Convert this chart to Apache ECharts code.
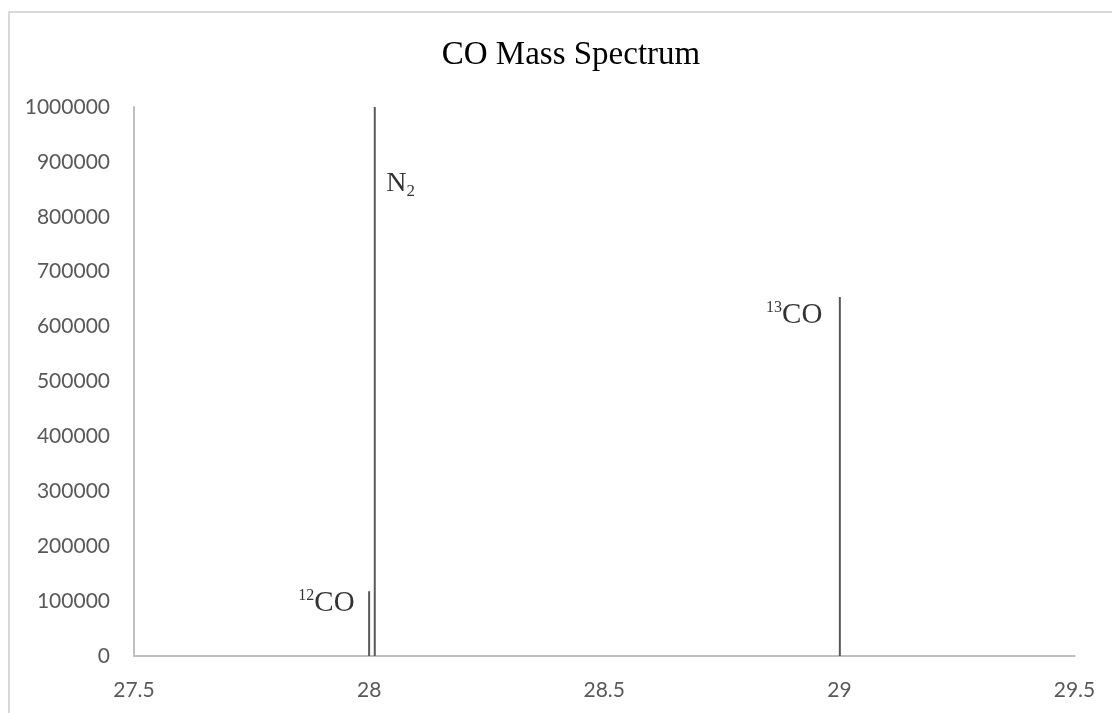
<!DOCTYPE html>
<html>
<head>
<meta charset="utf-8">
<script src="https://cdn.jsdelivr.net/npm/echarts@6/dist/echarts.min.js"></script>
<style>
html,body{margin:0;padding:0;background:#fff;}
#chart{width:1112px;height:713px;}
</style>
</head>
<body>
<div id="chart"></div>
<script>
// Peak data
const peakNames = ['12CO', 'N2', '13CO'];
const peakMass = [28.000, 28.012, 29.001];
const peakIntensity = [118000, 1000000, 654000];
const xTicks = [27.5, 28, 28.5, 29, 29.5];
const yTicks = [0, 100000, 200000, 300000, 400000, 500000, 600000, 700000, 800000, 900000, 1000000];

const serif = 'Liberation Serif';
const supRich = {
  b: {fontFamily: serif, fontSize: 29, color: '#000', lineHeight: 30, verticalAlign: 'bottom', padding: [4, 0, 0, 0]},
  sup: {fontFamily: serif, fontSize: 16, color: '#000', lineHeight: 15, verticalAlign: 'top'}
};
const subRich = {
  b: {fontFamily: serif, fontSize: 28, color: '#000', lineHeight: 30, verticalAlign: 'top'},
  sub: {fontFamily: serif, fontSize: 17, color: '#000', lineHeight: 16, verticalAlign: 'bottom', padding: [20, 0, 0, 0]}
};
const labelText = {
  '12CO': '{sup|12}{b|CO}',
  'N2': '{b|N}{sub|2}',
  '13CO': '{sup|13}{b|CO}'
};
const labelPlace = {
  '12CO': {position: 'left', distance: 14, offset: [0, 12], rich: supRich},
  'N2': {position: 'right', distance: 11, offset: [0, 78], rich: subRich},
  '13CO': {position: 'left', distance: 17, offset: [0, 18], rich: supRich}
};

// Lines for the peaks
const lineSeries = peakNames.map((name, i) => ({
  name: name,
  type: 'line',
  symbol: 'none',
  animation: false,
  lineStyle: {color: '#595959', width: 2},
  data: [[peakMass[i], 0], [peakMass[i], peakIntensity[i]]]
}));

// Labels attached to the peak tops
const labelSeries = {
  name: 'labels',
  type: 'scatter',
  symbol: 'circle',
  symbolSize: 1,
  animation: false,
  silent: true,
  itemStyle: {color: 'rgba(0,0,0,0)'},
  data: peakNames.map((name, i) => ({
    value: [peakMass[i], peakIntensity[i]],
    label: Object.assign({
      show: true,
      formatter: labelText[name]
    }, labelPlace[name])
  }))
};

const chart = echarts.init(document.getElementById('chart'), null, {renderer: 'canvas'});
chart.setOption({
  backgroundColor: '#ffffff',
  animation: false,
  title: {
    text: 'CO Mass Spectrum',
    left: 566,
    textAlign: 'center',
    top: 34,
    textStyle: {fontFamily: serif, fontSize: 33, fontWeight: 'normal', color: '#000'}
  },
  graphic: [{
    type: 'rect',
    shape: {x: 9, y: 12, width: 1200, height: 800},
    style: {fill: 'none', stroke: '#d9d9d9', lineWidth: 2},
    silent: true
  }],
  grid: {left: 134, top: 107, right: 37.5, bottom: 57, containLabel: false},
  xAxis: {
    type: 'value',
    min: xTicks[0],
    max: xTicks[xTicks.length - 1],
    interval: 0.5,
    axisLine: {show: true, lineStyle: {color: '#bfbfbf', width: 2}},
    axisTick: {show: false},
    splitLine: {show: false},
    axisLabel: {margin: 24, color: '#595959', fontFamily: 'Lato', fontSize: 21, formatter: v => String(v)}
  },
  yAxis: {
    type: 'value',
    min: yTicks[0],
    max: yTicks[yTicks.length - 1],
    interval: 100000,
    axisLine: {show: true, lineStyle: {color: '#bfbfbf', width: 2}},
    axisTick: {show: false},
    splitLine: {show: false},
    axisLabel: {margin: 24, color: '#595959', fontFamily: 'Lato', fontSize: 21, formatter: v => String(v)}
  },
  series: lineSeries.concat([labelSeries])
});
</script>
</body>
</html>
